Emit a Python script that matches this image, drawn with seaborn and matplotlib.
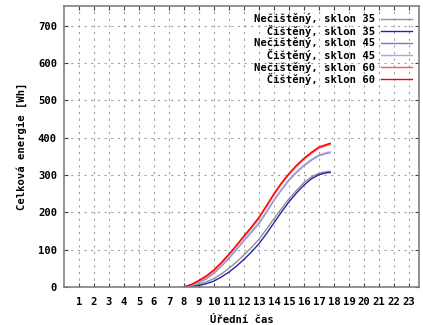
import numpy as np
import pandas as pd
import matplotlib
matplotlib.use("Agg")
import matplotlib.pyplot as plt
import seaborn as sns

# Data
hodiny = [8.0, 8.5, 9.0, 9.5, 10.0, 10.5, 11.0, 11.5, 12.0, 12.5, 13.0, 13.5,
          14.0, 14.5, 15.0, 15.5, 16.0, 16.5, 17.0, 17.5, 17.75]
necist_35 = [0, 2, 7, 14, 23, 35, 50, 67, 86, 106, 128, 155, 183, 210, 236, 259, 280, 295, 305, 309, 310]
cist_35 = [0, 1, 4, 9, 16, 27, 40, 56, 74, 94, 116, 143, 172, 201, 228, 252, 273, 290, 301, 306, 307]
necist_45 = [0, 4, 12, 22, 37, 56, 77, 100, 124, 147, 170, 200, 232, 260, 286, 307, 325, 340, 352, 358, 360]
cist_45 = [0, 5, 14, 24, 39, 58, 79, 102, 126, 149, 172, 202, 234, 262, 288, 309, 327, 342, 354, 360, 362]
necist_60 = [0, 6, 16, 28, 44, 64, 86, 110, 134, 158, 184, 215, 247, 276, 301, 323, 342, 358, 372, 379, 382]
cist_60 = [0, 7, 18, 30, 46, 66, 88, 112, 137, 161, 187, 218, 250, 279, 304, 326, 345, 361, 375, 382, 385]

labels = ["Nečištěný, sklon 35", "Čištěný, sklon 35",
          "Nečištěný, sklon 45", "Čištěný, sklon 45",
          "Nečištěný, sklon 60", "Čištěný, sklon 60"]
barvy = ["#909090", "#2424a8", "#7878c8", "#a8a8dc", "#ff5a5a", "#ff0000"]
x_ticks = list(range(1, 24))
y_ticks = list(range(0, 701, 100))

serie = [necist_35, cist_35, necist_45, cist_45, necist_60, cist_60]
df = pd.concat([pd.DataFrame({"cas": hodiny, "energie": s, "serie": lab})
                for s, lab in zip(serie, labels)], ignore_index=True)

plt.rcParams["font.family"] = ["DejaVu Sans Mono"]
plt.rcParams["font.weight"] = "bold"

fig = plt.figure(figsize=(4.23, 3.25), dpi=100)
ax = fig.add_axes([64 / 423, 38 / 325, 355 / 423, 281 / 325])

sns.lineplot(data=df, x="cas", y="energie", hue="serie", hue_order=labels,
             palette=barvy, linewidth=1.0, ax=ax)

ax.set_xlim(0, 23.67)
ax.set_ylim(0, 753)
ax.set_xticks(x_ticks)
ax.set_yticks(y_ticks)
ax.tick_params(direction="in", length=3, width=0.8, color="#404040",
               labelsize=7.6, top=True, right=True, pad=5)
ax.tick_params(axis="x", pad=7)
for t in ax.get_xticklabels() + ax.get_yticklabels():
    t.set_fontweight("bold")
ax.grid(True, linestyle=(0, (2, 4)), color="#a0a0a0", linewidth=0.8)
for sp in ax.spines.values():
    sp.set_color("#808080")
    sp.set_linewidth(1.2)

ax.set_xlabel("Úřední čas", fontsize=7.6, fontweight="bold", labelpad=6)
ax.set_ylabel("Celková energie [Wh]", fontsize=7.6, fontweight="bold", labelpad=8)

n = max(len(l) for l in labels)
h, _ = ax.get_legend_handles_labels()
ax.legend(h, [l.rjust(n) for l in labels], loc="upper right", frameon=False,
          markerfirst=False, handlelength=2.9, handletextpad=0.6,
          labelspacing=0.05, borderaxespad=0.3,
          prop={"family": "DejaVu Sans Mono", "weight": "bold", "size": 7.6})

fig.savefig("out.png", dpi=100)
